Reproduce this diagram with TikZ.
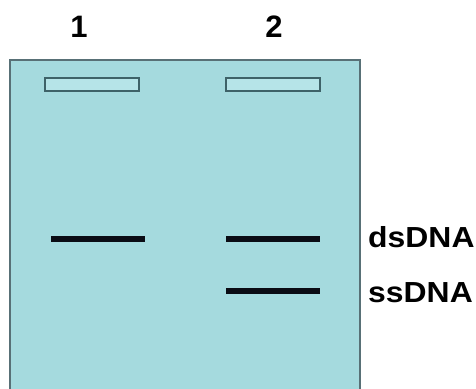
\documentclass[tikz,border=0pt]{standalone}
\usepackage{fontspec}
\setmainfont{Liberation Sans}
\definecolor{gelfill}{RGB}{165,218,222}
\definecolor{gelborder}{RGB}{88,112,118}
\definecolor{wellborder}{RGB}{62,98,104}
\definecolor{wellfill}{RGB}{182,228,232}
\definecolor{bandcol}{RGB}{10,12,20}
\begin{document}
\begin{tikzpicture}[x=1pt,y=-1pt,
  gel/.style={fill=gelfill,draw=gelborder,line width=2.5pt},
  well/.style={fill=wellfill,draw=wellborder,line width=1.6pt},
  band/.style={draw=bandcol,line width=6.5pt},
  lanelabel/.style={font=\fontsize{31}{31}\bfseries\selectfont,anchor=base,inner sep=0pt},
  dnalabel/.style={font=\fontsize{29}{29}\bfseries\selectfont,anchor=base west,inner sep=0pt,xscale=1.1}]
\useasboundingbox (0,0) rectangle (476,388);
% gel slab (runs off the bottom edge)
\draw[gel] (10,60) rectangle (360,400);
% loading wells
\draw[well] (45,78) rectangle (139,91);
\draw[well] (226,78) rectangle (320,91);
% lane numbers
\node[lanelabel] (l1) at (79,37) {1};
\node[lanelabel] (l2) at (274,37) {2};
% bands
\draw[band] (51,239) -- (145,239);
\draw[band] (226,239) -- (320,239);
\draw[band] (226,291) -- (320,291);
% band labels
\node[dnalabel] (ds) at (368,247) {dsDNA};
\node[dnalabel] (ss) at (368,302) {ssDNA};
\end{tikzpicture}
\end{document}
